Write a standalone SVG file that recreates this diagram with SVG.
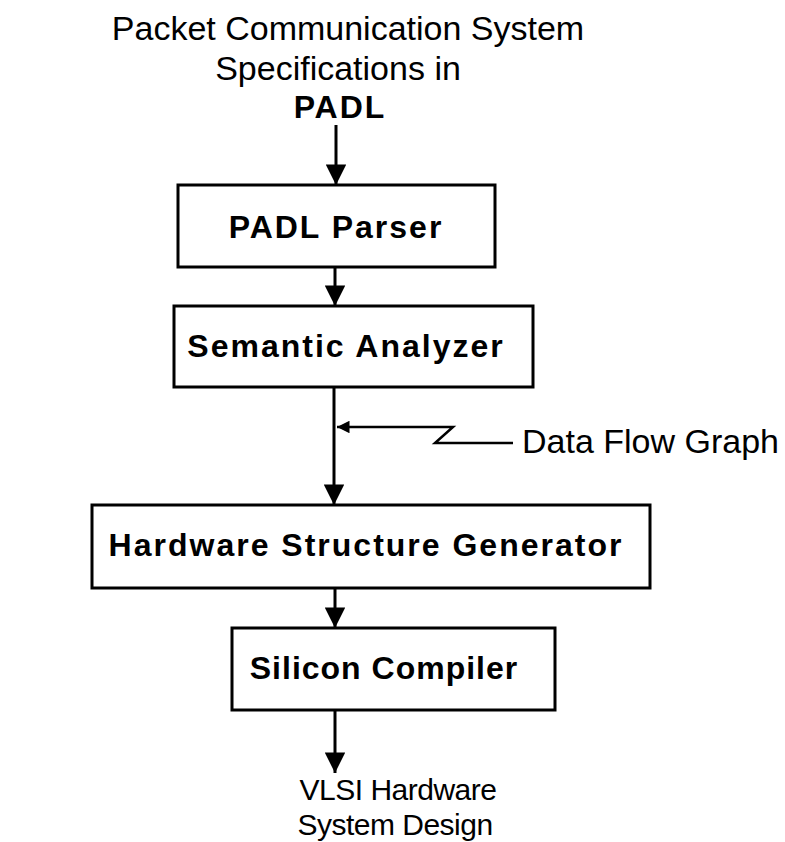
<svg xmlns="http://www.w3.org/2000/svg" width="785" height="842" viewBox="0 0 785 842">
  <defs>
    <marker id="head" viewBox="0 0 10 10" refX="10" refY="5" markerWidth="7" markerHeight="6.8" markerUnits="strokeWidth" orient="auto">
      <path d="M0,0 L10,5 L0,10 Z" fill="#000"/>
    </marker>
    <marker id="headSmall" viewBox="0 0 10 10" refX="10" refY="5" markerWidth="6" markerHeight="5" markerUnits="strokeWidth" orient="auto">
      <path d="M0,0 L10,5 L0,10 Z" fill="#000"/>
    </marker>
  </defs>
  <style>
    .box { fill: #fff; stroke: #000; stroke-width: 3; }
    .label { font-family: "Liberation Sans", Arial, sans-serif; font-weight: bold; font-size: 32px; letter-spacing: 2px; text-anchor: middle; fill: #000; }
    .plain { font-family: "Liberation Sans", Arial, sans-serif; font-size: 34px; fill: #000; }
    .mid { text-anchor: middle; }
    .out { font-size: 30px; letter-spacing: -0.5px; }
    .flow { fill: none; stroke: #000; stroke-width: 3; }
    .note { fill: none; stroke: #000; stroke-width: 2.5; }
  </style>
  <rect width="785" height="842" fill="#fff"/>

  <!-- input specification -->
  <g id="input">
    <text class="plain mid" x="348" y="40">Packet Communication System</text>
    <text class="plain mid" x="338" y="80">Specifications in</text>
    <text class="label" x="340" y="118">PADL</text>
  </g>

  <g id="parser">
    <rect class="box" x="178" y="185" width="317" height="82"/>
    <text class="label" x="336" y="238">PADL Parser</text>
  </g>

  <g id="analyzer">
    <rect class="box" x="174" y="306" width="359" height="81"/>
    <text class="label" x="346" y="357">Semantic Analyzer</text>
  </g>

  <g id="generator">
    <rect class="box" x="92" y="505" width="558" height="83"/>
    <text class="label" x="366" y="556">Hardware Structure Generator</text>
  </g>

  <g id="compiler">
    <rect class="box" x="232" y="628" width="323" height="82"/>
    <text class="label" x="384" y="679" style="letter-spacing:1px">Silicon Compiler</text>
  </g>

  <g id="output">
    <text class="plain mid out" x="398" y="800">VLSI Hardware</text>
    <text class="plain mid out" x="395" y="835">System Design</text>
  </g>

  <g id="dfg-label">
    <text class="plain" x="522" y="453">Data Flow Graph</text>
  </g>

  <!-- connectors -->
  <g id="connectors">
    <line class="flow" x1="336" y1="125" x2="336" y2="185" marker-end="url(#head)"/>
    <line class="flow" x1="335" y1="268" x2="335" y2="306" marker-end="url(#head)"/>
    <line class="flow" x1="334" y1="388" x2="334" y2="505" marker-end="url(#head)"/>
    <line class="flow" x1="335" y1="589" x2="335" y2="628" marker-end="url(#head)"/>
    <line class="flow" x1="335" y1="711" x2="335" y2="773" marker-end="url(#head)"/>
    <!-- leader from the label to the analyzer output -->
    <polyline class="note" points="513,443 435,443 453,427 337,427" marker-end="url(#headSmall)"/>
  </g>
</svg>
